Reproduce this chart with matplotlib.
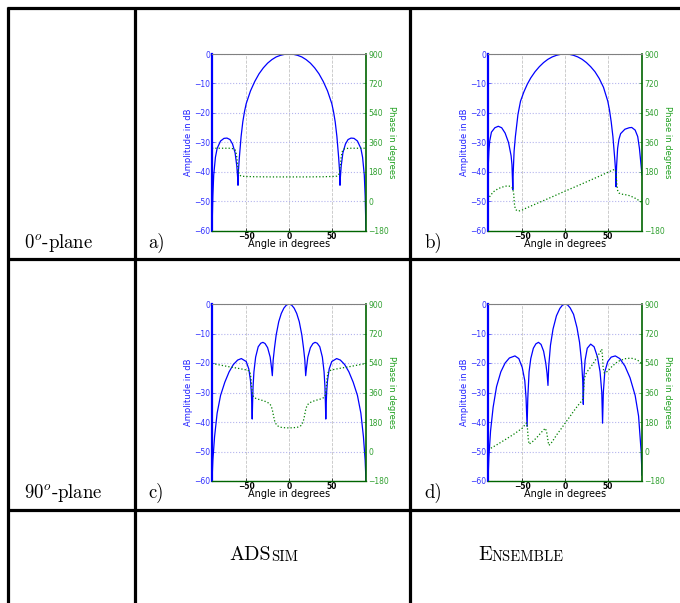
import matplotlib.pyplot as plt

plt.rcParams['mathtext.fontset'] = 'cm'

# ---- data (angle in degrees, amplitude in dB, phase in degrees) ----
a_amp_ang = [-90, -89, -88, -86, -84, -80, -76, -72.5, -69, -66, -63, -61, -60, -59.6,
             -59.2, -58, -56, -54, -52, -50, -45, -40, -35, -30, -25, -20, -15, -10, -5,
             0, 5, 10, 15, 20, 25, 30, 35, 40, 45, 50, 52, 54, 56, 58, 59.2,
             59.6, 60, 61, 63, 66, 69, 72.5, 76, 80, 84, 86, 88, 89, 90]
a_amp = [-60, -48, -41, -35, -32, -29.5, -28.6, -28.5, -29, -30.5, -33.5, -38, -42, -44.5,
         -40, -35, -28, -23, -19.5, -16.8, -12.5, -9.3, -6.7, -4.7, -3.1, -1.9, -1.0, -0.45, -0.1,
         0, -0.1, -0.45, -1.0, -1.9, -3.1, -4.7, -6.7, -9.3, -12.5, -16.8, -19.5, -23, -28, -35, -40,
         -44.5, -42, -38, -33.5, -30.5, -29, -28.5, -28.6, -29.5, -32, -35, -41, -48, -60]
a_ph_ang = [-90, -80, -70, -65, -63, -62, -61, -60, -59, -58, -56, -52, -40, -20, 0,
            20, 40, 52, 56, 58, 59, 60, 61, 62, 63, 65, 70, 80, 90]
a_ph = [325, 325, 325, 322, 315, 300, 270, 220, 180, 162, 155, 153, 151, 150, 150,
        150, 151, 153, 155, 162, 180, 220, 270, 300, 315, 322, 325, 325, 325]

b_amp_ang = [-90, -89, -88, -86, -82, -78, -74, -70, -66, -63,
             -62, -61, -60.5, -59.5, -58, -57, -55, -52, -48, -44, -40, -35, -30, -25, -20, -15, -10, -5,
             0, 5, 10, 15, 20, 25, 30, 35, 40, 45, 50, 52, 54, 56, 58, 59, 59.6,
             60.3, 61.5, 63, 65, 70, 75, 78, 82, 85, 87, 89, 90]
b_amp = [-40, -33, -29.5, -26.5, -25, -24.5, -25, -26.8, -30, -34.5,
         -37.5, -46, -40, -33, -28, -25.5, -20.5, -16, -12.8, -10.2, -8.1, -6, -4.3, -2.9, -1.8, -1.0, -0.45, -0.1,
         0, -0.1, -0.45, -1.0, -1.8, -2.9, -4.3, -6, -8.3, -11.3, -16, -19, -23, -28, -35, -39, -45,
         -38, -32, -29, -27, -25.5, -25, -24.9, -25.8, -28, -32, -38, -41]
b_ph_ang = [-90, -88, -84, -78, -72, -68, -64, -62, -61, -60,
            -59.5, -59, -58, -56, -54, -50, -47, -40, -20, 0,
            20, 40, 55, 58, 59, 59.8, 60.5, 61.5, 63, 66,
            70, 74, 78, 82, 85, 88, 90]
b_ph = [10, 30, 58, 79, 90, 95, 93, 86, 75, 50,
        10, -20, -48, -56, -58, -52, -44, -28, 17, 63,
        108, 154, 190, 196, 195, 170, 110, 68, 52, 45,
        42, 38, 30, 20, 11, 0, -5]

c_amp_ang = [-90, -89, -87, -84, -80, -75, -70, -65, -60, -55.7,
             -50, -47, -45, -44, -43.5, -43, -42.5, -42, -41, -39,
             -36, -33, -30.5, -28, -25, -22, -20.5, -19.5, -18.5, -17,
             -15, -12, -9, -6, -3, 0, 3, 6, 9, 12, 15,
             17, 18.5, 19.5, 20.5, 22, 25, 28, 30.5, 33, 36,
             39, 41, 42, 42.5, 43, 43.5, 44, 45, 47, 50,
             55.7, 60, 65, 70, 75, 80, 84, 87, 89, 90]
c_amp = [-60, -53, -45, -37, -31, -26.5, -23, -20.5, -19, -18.5,
         -19.5, -22, -26, -30, -34, -39, -33, -28, -23, -18,
         -14.5, -13.3, -13, -13.4, -14.8, -18, -21.5, -24.3, -19, -15,
         -10.5, -6, -3.2, -1.4, -0.35, 0, -0.35, -1.4, -3.2, -6, -10.5,
         -15, -19, -24.3, -21.5, -18, -14.8, -13.4, -13, -13.3, -14.5,
         -18, -23, -28, -33, -39, -34, -30, -26, -22, -19.5,
         -18.5, -19, -20.5, -23, -26.5, -31, -37, -45, -53, -60]
c_ph_ang = [-90, -80, -70, -60, -50, -47, -45.5, -44.5, -43.5, -42.5,
            -41, -38, -34, -30, -26, -23, -21, -19.5, -18, -16.5,
            -14, -10, -5, 0, 5, 10, 14,
            16.5, 18, 19.5, 21, 23, 26, 30, 34, 38, 41,
            42.5, 43.5, 44.5, 45.5, 47, 50, 60, 70, 80, 90]
c_ph = [537, 527, 517, 508, 498, 492, 480, 450, 390, 345,
        330, 322, 316, 310, 302, 293, 280, 255, 215, 180,
        158, 148, 145, 144, 145, 148, 158,
        180, 215, 255, 280, 293, 302, 310, 316, 322, 330,
        345, 390, 450, 480, 492, 498, 508, 517, 527, 537]

d_amp_ang = [-90, -89, -87, -84, -80, -75, -70, -65, -58.5, -54,
             -50, -47, -45.5, -44.3, -43.5, -42, -40, -37, -34, -31,
             -28, -25, -22.5, -21, -19.9, -19, -17, -14, -10, -6,
             -3, 0, 3, 6, 10, 14, 17, 19.5, 20.7, 21.4,
             22, 23.5, 26, 30, 34, 38, 41, 43, 43.9, 44.8,
             46.5, 50, 54, 58.8, 64, 70, 76, 82, 86, 89, 90]
d_amp = [-60, -52, -43, -35, -28, -23, -20, -18.3, -17.6, -18.5,
         -21.5, -26, -32, -41.5, -32, -23, -18.5, -15, -13.5, -13,
         -13.7, -16, -20, -23.5, -27.6, -21, -14, -8.5, -4, -1.5,
         -0.4, 0, -0.3, -1.3, -3.5, -8, -13, -20, -26, -34,
         -25, -19, -15, -13.6, -14.5, -18, -23, -30, -40.4, -30,
         -23, -19.5, -18, -17.6, -18.5, -21, -25, -31, -38, -50, -58]
d_ph_ang = [-90, -80, -70, -60, -50, -45, -44, -43, -42, -38,
            -33, -28, -23, -21.5, -20, -19, -17, -13, -10, -5,
            0, 5, 10, 15, 19, 21, 21.8, 22.5, 24, 27,
            30, 34, 38, 42, 43, 43.8, 44.5, 46, 50, 55,
            62, 70, 77, 83, 87, 90]
d_ph = [10, 40, 72, 105, 142, 175, 150, 80, 45, 60,
        85, 115, 142, 120, 70, 38, 45, 75, 100, 135,
        172, 208, 245, 280, 305, 320, 380, 440, 470, 495,
        515, 545, 580, 615, 625, 580, 510, 478, 490, 520,
        550, 566, 570, 562, 550, 535]

amp_ticks = [-60, -50, -40, -30, -20, -10, 0]
phase_ticks = [-180, 0, 180, 360, 540, 720, 900]
angle_ticks = [-50, 0, 50]

BLUE = '#0000ff'
GREEN = '#008000'

W, H = 680, 603
fig = plt.figure(figsize=(W / 100, H / 100), dpi=100)

# table rules, drawn in pixel coordinates
frame = fig.add_axes([0, 0, 1, 1])
frame.set_xlim(0, W)
frame.set_ylim(H, 0)
frame.axis('off')
for y in (8, 259, 510):
    frame.plot([6.5, W], [y, y], color='k', lw=2.3, solid_capstyle='butt')
for x in (8, 134.5, 409.5):
    frame.plot([x, x], [6.5, H], color='k', lw=2.3, solid_capstyle='butt')

serif = dict(family='cmr10', color='k')
frame.text(24, 248, r'$0^o$-plane', fontsize=13.5, va='baseline', **serif)
frame.text(24, 498, r'$90^o$-plane', fontsize=13.5, va='baseline', **serif)
for x, y, s in [(148, 248, 'a)'), (424, 248, 'b)'), (148, 498, 'c)'), (424, 498, 'd)')]:
    frame.text(x, y, s, fontsize=13.5, va='baseline', **serif)

t1 = frame.text(229, 564, 'ADS', fontsize=14.5, va='bottom', **serif)
frame.annotate('SIM', xy=(1, 0), xycoords=t1, fontsize=10.5, va='bottom', ha='left', **serif)
t2 = frame.text(478, 564, 'E', fontsize=14.5, va='bottom', **serif)
frame.annotate('NSEMBLE', xy=(1, 0), xycoords=t2, fontsize=10.5, va='bottom', ha='left', **serif)


def panel(px, py, amp_ang, amp, ph_ang, ph):
    # px, py: left / top edge of the plot box in pixels
    rect = [px / W, 1 - (py + 177) / H, 154 / W, 177 / H]
    ax = fig.add_axes(rect)
    ax.plot(amp_ang, amp, color=BLUE, lw=0.9)
    ax.set_xlim(-90, 90)
    ax.set_ylim(-60, 0)
    ax.set_xticks(angle_ticks)
    ax.set_yticks(amp_ticks)
    ax.xaxis.grid(True, color='#c4c4c4', ls='--', lw=0.6)
    ax.yaxis.grid(True, color='#b4b4ee', ls=':', lw=0.8)
    ax.tick_params(axis='x', labelsize=5.5, pad=0.5, length=2, direction='in', width=0.5)
    ax.tick_params(axis='y', labelsize=5.5, pad=1.5, length=2, direction='in', width=0.5,
                   colors='#3030ff')
    for lab in ax.get_xticklabels():
        lab.set_fontweight('bold')
    ax.set_xlabel('Angle in degrees', fontsize=7, labelpad=-1)
    ax.set_ylabel('Amplitude in dB', fontsize=6, color='#2020ff', labelpad=0.5)
    for s in ax.spines.values():
        s.set_visible(False)

    ax2 = ax.twinx()
    ax2.plot(ph_ang, ph, color=GREEN, lw=0.9, ls=':')
    ax2.set_ylim(-180, 900)
    ax2.set_yticks(phase_ticks)
    ax2.tick_params(axis='y', labelsize=5.5, pad=1.5, length=2, direction='in', width=0.5,
                    colors='#30a030')
    ax2.set_ylabel('Phase in degrees', fontsize=6, color='#20a020', rotation=270,
                   va='bottom', labelpad=-1.5)
    ax2.spines['left'].set_color(BLUE)
    ax2.spines['left'].set_linewidth(1.6)
    ax2.spines['right'].set_color('#006400')
    ax2.spines['right'].set_linewidth(1.2)
    ax2.spines['bottom'].set_color('#006400')
    ax2.spines['bottom'].set_linewidth(1.0)
    ax2.spines['top'].set_color('#808080')
    ax2.spines['top'].set_linewidth(0.8)
    return ax, ax2


panel(212, 54, a_amp_ang, a_amp, a_ph_ang, a_ph)
panel(488, 54, b_amp_ang, b_amp, b_ph_ang, b_ph)
panel(212, 304, c_amp_ang, c_amp, c_ph_ang, c_ph)
panel(488, 304, d_amp_ang, d_amp, d_ph_ang, d_ph)

fig.savefig('out.png', dpi=100)
